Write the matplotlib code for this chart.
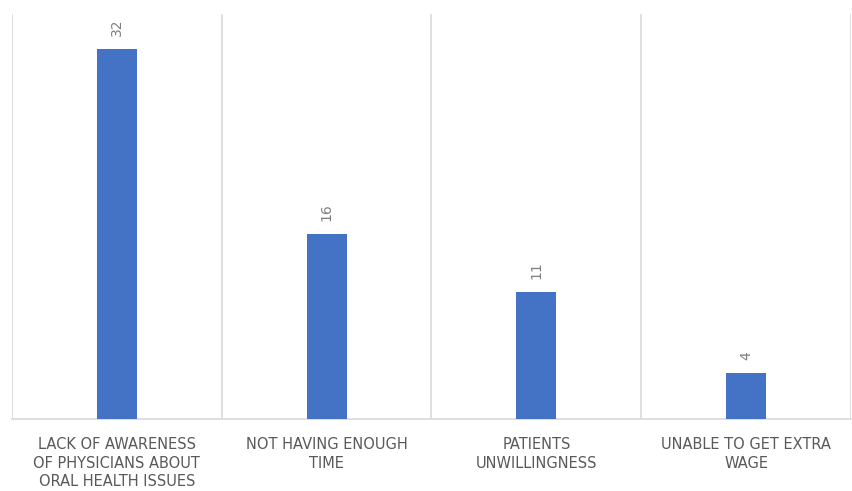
import matplotlib
matplotlib.use("Agg")
import matplotlib.pyplot as plt

plt.rcParams['font.family'] = ['DejaVu Sans']

categories = ["LACK OF AWARENESS\nOF PHYSICIANS ABOUT\nORAL HEALTH ISSUES",
              "NOT HAVING ENOUGH\nTIME",
              "PATIENTS\nUNWILLINGNESS",
              "UNABLE TO GET EXTRA\nWAGE"]
values = [32, 16, 11, 4]

fig = plt.figure(figsize=(8.52, 4.91), dpi=100)
ax = fig.add_axes([12/852, 1 - 419/491, 839/852, (419 - 14)/491])

x = list(range(len(values)))
bars = ax.bar(x, values, width=0.19, color="#4472C4", zorder=3)

ax.set_xlim(-0.5, len(values) - 0.5)
ax.set_ylim(0, 35)

for b in [i - 0.5 for i in range(len(values) + 1)]:
    ax.axvline(b, color="#d9d9d9", lw=1.2, zorder=1)

for xi, v in zip(x, values):
    ax.annotate(str(v), (xi, v), xytext=(0, 9), textcoords="offset points",
                rotation=90, ha="center", va="bottom", fontsize=10, color="#7f7f7f")

ax.set_xticks(x)
ax.set_xticklabels(categories, fontsize=10.5, color="#595959", linespacing=1.3)
ax.tick_params(axis="x", length=0, pad=13)
ax.set_yticks([])
for s in ["top", "right", "left"]:
    ax.spines[s].set_visible(False)
ax.spines["bottom"].set_color("#d9d9d9")
ax.spines["bottom"].set_linewidth(1.2)

fig.savefig("out.png", dpi=100)
